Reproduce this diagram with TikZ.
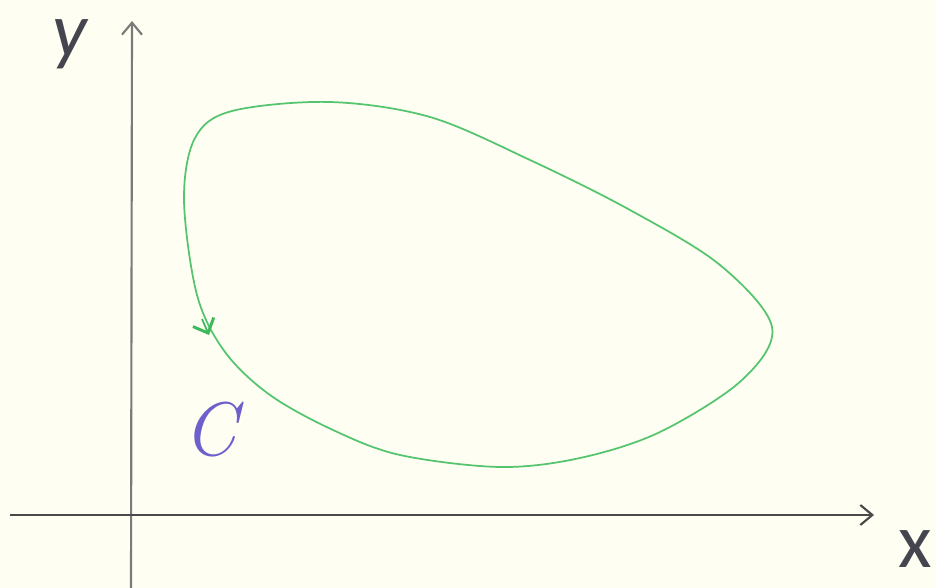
\documentclass[tikz,border=0pt]{standalone}
\usepackage{fontspec}
\usetikzlibrary{arrows.meta}
\newfontfamily\labfont{Carlito}
\definecolor{bgc}{HTML}{FEFEF2}
\definecolor{axc}{HTML}{4A4A4A}
\definecolor{yaxc}{HTML}{7A7A7A}
\definecolor{curvec}{HTML}{55C46E}
\definecolor{arrc}{HTML}{3DB85A}
\definecolor{cc}{HTML}{6E60CC}
\definecolor{labc}{HTML}{45454F}
\tikzset{
  axis/.style={line width=1.6pt, draw=axc, -{Straight Barb[length=9pt,width=15pt,line width=1.6pt]}},
  curve/.style={line width=1.3pt, draw=curvec},
  lab/.style={text=labc, font=\labfont\fontsize{58}{60}\selectfont, inner sep=0pt, anchor=base},
}
\begin{document}
\begin{tikzpicture}[x=0.75pt,y=-0.75pt]
\fill[bgc] (0,0) rectangle (936,588);
\useasboundingbox (0,0) rectangle (936,588);
\coordinate (ybot) at (131,588);
\coordinate (ytop) at (132,21);
\coordinate (xleft) at (10,515);
\coordinate (xright) at (874,515);
\draw[axis, draw=yaxc] (ybot) -- (ytop);
\draw[axis] (xleft) -- (xright);
\node[lab] (ylab) at (70,57) {\itshape y};
\node[lab] (xlab) at (915,567) {x};
\node[text=cc, inner sep=0pt, anchor=base, font=\fontsize{57}{59}\selectfont\itshape] (clab) at (210,455) {C};
\draw[curve] plot[smooth cycle, tension=0.55] coordinates {
 (184,200) (195,138) (232,111) (330,102) (430,117) (530,160) (630,210)
 (720,265) (772,327) (742,380) (660,432) (580,458) (500,467)
 (400,455) (333,430) (270,395) (225,352) (197,295)};
\coordinate (atail) at (202,319);
\coordinate (atip) at (209,335);
\draw[curve, draw=arrc, -{Straight Barb[length=9pt,width=17pt,line width=2.2pt]}] (atail) -- (atip);
\end{tikzpicture}
\end{document}
